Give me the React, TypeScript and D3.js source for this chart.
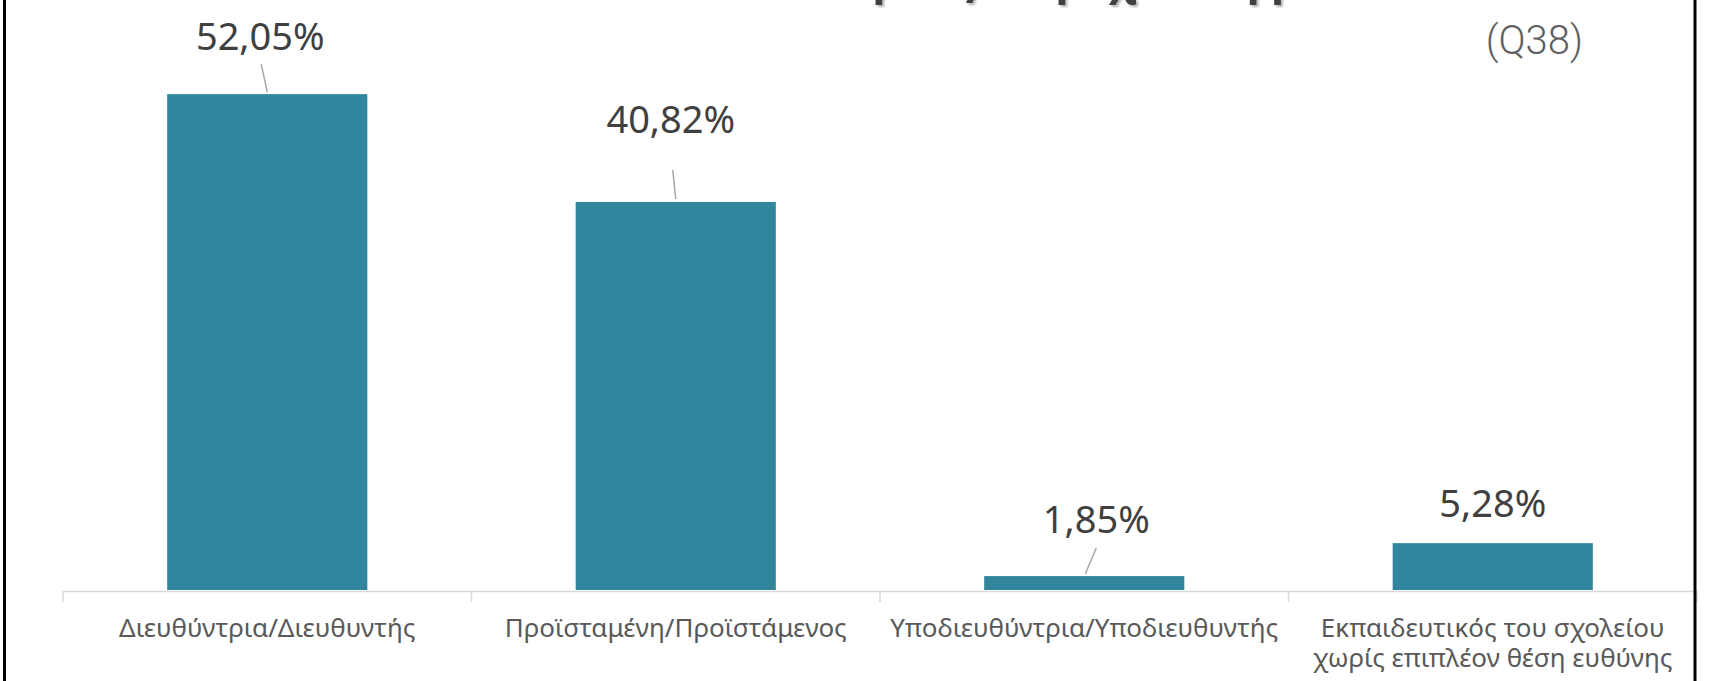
import * as d3 from 'd3';
import React from 'react';

// categories (x axis), two-line labels where the original wraps
const categories = [
    'Διευθύντρια/Διευθυντής',
    'Προϊσταμένη/Προϊστάμενος',
    'Υποδιευθύντρια/Υποδιευθυντής',
    'Εκπαιδευτικός του σχολείου χωρίς επιπλέον θέση ευθύνης',
];
const categoryLines = [
    ['Διευθύντρια/Διευθυντής'],
    ['Προϊσταμένη/Προϊστάμενος'],
    ['Υποδιευθύντρια/Υποδιευθυντής'],
    ['Εκπαιδευτικός του σχολείου', 'χωρίς επιπλέον θέση ευθύνης'],
];
const values = [52.05, 40.82, 1.85, 5.28];
const valueLabels = ['52,05%', '40,82%', '1,85%', '5,28%'];

// where the dragged data labels sit (offsets from the bar top centre)
const labelShift = [
    { dx: -7, dy: -44, leader: [-6, -30, 0, -2] },
    { dx: -5, dy: -69, leader: [-3, -32, 0, -3] },
    { dx: 12, dy: -43, leader: [12, -28, 1, -2] },
    { dx: 0, dy: -26, leader: null },
];

const width = 1714;
const height = 681;
const baseY = 590;
const font = '"Noto Sans", "Liberation Sans", sans-serif';

const App = (): React.ReactElement => {
    const xScale = d3.scaleBand<string>().domain(categories).range([63, 1697]).paddingInner(0.51).paddingOuter(0.255);
    // the original value axis starts slightly above zero
    const yScale = d3.scaleLinear().domain([0.4, 60]).range([baseY, baseY - 59.6 * 9.6]);

    const step = xScale.step();
    const bounds = d3.range(categories.length + 1).map((i) => 63 + i * step);

    return (
        <svg width={width} height={height} style={{ position: 'absolute', left: 0, top: 0, background: '#fff' }}>
            <defs>
                <filter id="shadow" x="-5%" y="-50%" width="110%" height="200%">
                    <feDropShadow dx="2" dy="2" stdDeviation="1" floodColor="#000" floodOpacity="0.3" />
                </filter>
            </defs>

            {/* title, cut off by the top edge: only descenders show */}
            <text
                x={1085}
                y={-6}
                textAnchor="middle"
                fontFamily={font}
                fontWeight={700}
                fontSize={44}
                fill="#404040"
                filter="url(#shadow)"
            >
                Η θέση σας στη σχολική μονάδα
            </text>
            <text x={1583} y={54} textAnchor="end" fontFamily="Roboto, sans-serif" fontWeight={300} fontSize={40} fill="#5f5f5f">
                (Q38)
            </text>

            {/* bars */}
            {values.map((v, i) => (
                <rect
                    key={categories[i]}
                    x={xScale(categories[i])}
                    y={yScale(v)}
                    width={xScale.bandwidth()}
                    height={baseY - yScale(v)}
                    fill="#31859C"
                />
            ))}

            {/* data labels with leader lines */}
            {values.map((v, i) => {
                const cx = (xScale(categories[i]) as number) + xScale.bandwidth() / 2;
                const top = yScale(v);
                const s = labelShift[i];
                return (
                    <g key={'lab' + i}>
                        {s.leader && (
                            <line
                                x1={cx + s.leader[0]}
                                y1={top + s.leader[1]}
                                x2={cx + s.leader[2]}
                                y2={top + s.leader[3]}
                                stroke="#a6a6a6"
                                strokeWidth={1.5}
                            />
                        )}
                        <text x={cx + s.dx} y={top + s.dy} textAnchor="middle" fontFamily={font} fontSize={38} fill="#404040">
                            {valueLabels[i]}
                        </text>
                    </g>
                );
            })}

            {/* x axis */}
            <line x1={63} x2={1697} y1={baseY + 1.5} y2={baseY + 1.5} stroke="#d9d9d9" strokeWidth={1.5} />
            {bounds.map((bx) => (
                <line key={'t' + bx} x1={bx} x2={bx} y1={baseY + 1} y2={baseY + 12} stroke="#d9d9d9" strokeWidth={1.5} />
            ))}
            {categoryLines.map((lines, i) => {
                const cx = (xScale(categories[i]) as number) + xScale.bandwidth() / 2;
                return lines.map((l, j) => (
                    <text key={'c' + i + '-' + j} x={cx} y={637 + j * 30} textAnchor="middle" fontFamily={font} fontSize={26} fill="#595959">
                        {l}
                    </text>
                ));
            })}

            {/* chart frame */}
            <rect x={4.5} y={-10} width={1690.5} height={height + 20} fill="none" stroke="#000" strokeWidth={3} />
        </svg>
    );
};

export default App;
